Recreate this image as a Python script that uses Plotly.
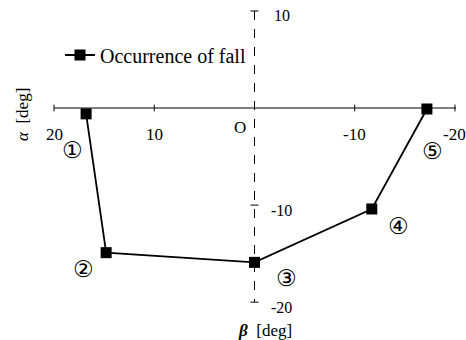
import plotly.graph_objects as go

# fall occurrence points (beta, alpha) in deg
beta = [16.8, 14.8, 0.0, -11.7, -17.2]
alpha = [-0.6, -14.9, -15.9, -10.4, -0.1]
point_labels = ["①", "②", "③", "④", "⑤"]

x_ticks = [20, 10, -10, -20]
y_ticks = [10, -10, -20]

W, H = 466, 340
serif = "Liberation Serif"

fig = go.Figure()
fig.add_trace(go.Scatter(
    x=beta, y=alpha, mode="lines+markers", name="Occurrence of fall",
    line=dict(color="black", width=1.8),
    marker=dict(symbol="square", size=11, color="black"),
))

# horizontal axis (solid) and vertical axis (dashed)
fig.add_shape(type="line", x0=20, x1=-20.1, y0=0, y1=0, line=dict(color="black", width=1))
fig.add_shape(type="line", x0=0, x1=0, y0=10, y1=-20, line=dict(color="black", width=1, dash="dash"))
for t in x_ticks:
    fig.add_shape(type="line", x0=t, x1=t, y0=-0.35, y1=0.35, line=dict(color="black", width=1))
for t in y_ticks:
    fig.add_shape(type="line", x0=0.4, x1=-0.4, y0=t, y1=t, line=dict(color="black", width=1))

# tick labels
for t in x_ticks:
    fig.add_annotation(x=t, y=0, text=str(t), showarrow=False, yshift=-26,
                       font=dict(family=serif, size=17, color="black"))
fig.add_annotation(x=1.4, y=0, text="O", showarrow=False, yshift=-19,
                   font=dict(family=serif, size=17, color="black"))
for t in y_ticks:
    fig.add_annotation(x=-2.7, y=t, text=str(t), showarrow=False, yshift=-5,
                       font=dict(family=serif, size=16, color="black"))

# circled point numbers
offsets = [(-14, -36), (-23, -16), (32, -16), (27, -17), (6, -42)]
for bx, ay, lab, (dx, dy) in zip(beta, alpha, point_labels, offsets):
    fig.add_annotation(x=bx, y=ay, text=lab, showarrow=False, xshift=dx, yshift=dy,
                       font=dict(family="DejaVu Sans", size=23, color="black"))

# axis titles
fig.add_annotation(x=22 / W, y=1 - 115 / H, xref="paper", yref="paper", text="<i>α</i>  [deg]",
                   xanchor="center", yanchor="middle", textangle=-90, showarrow=False,
                   font=dict(family=serif, size=17, color="black"))
fig.add_annotation(x=265 / W, y=1 - 330 / H, xref="paper", yref="paper", text="<i><b>β</b></i>  [deg]",
                   xanchor="center", yanchor="middle", showarrow=False,
                   font=dict(family=serif, size=17, color="black"))

fig.update_xaxes(range=[25.39, -21.1], visible=False)
fig.update_yaxes(range=[-23.9, 11.13], visible=False)
fig.update_layout(
    width=W, height=H, margin=dict(l=0, r=0, t=0, b=0, pad=0, autoexpand=False),
    plot_bgcolor="white", paper_bgcolor="white",
    showlegend=True,
    legend=dict(x=60 / W, y=1 - 55 / H, xanchor="left", yanchor="middle",
                bgcolor="rgba(0,0,0,0)", font=dict(family=serif, size=20, color="black")),
)

# drop the default page margin so the figure sits at the window corner
fig.write_html("out.html", config={"displayModeBar": False},
               post_script="document.body.style.margin = '0';")
